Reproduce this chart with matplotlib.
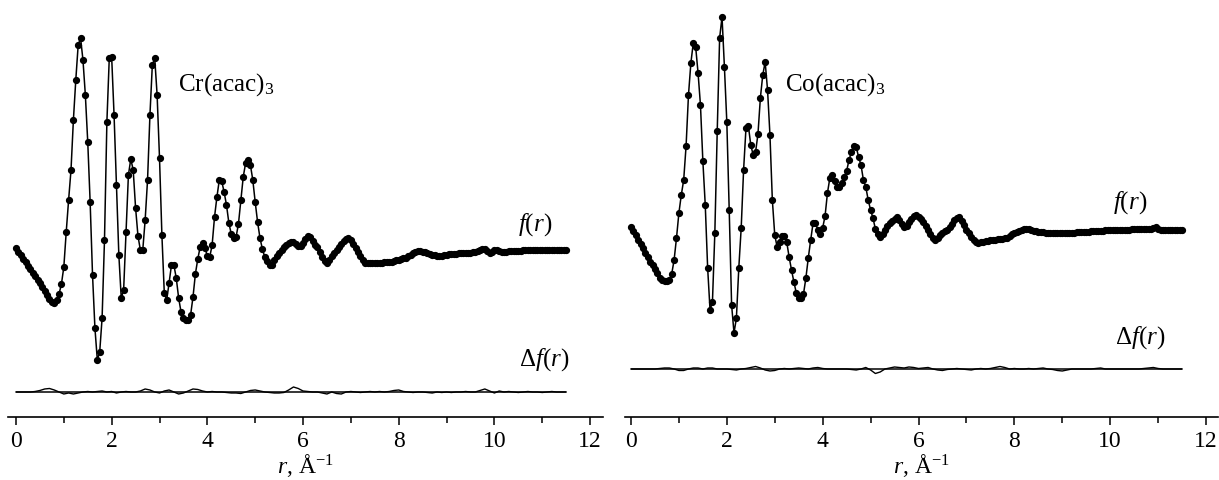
import numpy as np
import matplotlib
matplotlib.use('Agg')
import matplotlib.pyplot as plt
from matplotlib.ticker import MultipleLocator

plt.rcParams['font.family'] = 'Liberation Serif'
plt.rcParams['mathtext.fontset'] = 'custom'
plt.rcParams['mathtext.rm'] = 'Liberation Serif'
plt.rcParams['mathtext.it'] = 'Liberation Serif:italic'

STEP_F = 0.05
cr_f = [
    2, -2, -5, -9, -12, -16, -19, -23, -26, -30, -33, -37, -41, -45, -49, -52, -53, -50, -44, -34,
    -17, 18, 50, 80, 130, 170, 205, 212, 190, 155, 108, 48, -25, -78, -110, -102, -68, 10, 128, 192,
    193, 135, 65, -5, -48, -40, 18, 75, 91, 80, 42, 14, 0, 0, 30, 70, 135, 185, 192, 155,
    92, 15, -43, -50, -33, -15, -15, -28, -48, -62, -68, -70, -70, -65, -47, -24, -9, 3, 7, 2,
    -6, -7, 5, 33, 53, 70, 69, 58, 45, 27, 16, 12, 13, 26, 50, 73, 87, 90, 85, 70,
    48, 28, 12, 1, -7, -11, -15, -15, -10, -6, -3, 0, 3, 5, 7, 8, 8, 6, 4, 4,
    7, 11, 14, 13, 9, 5, 3, -2, -7, -11, -13, -10, -6, -3, 0, 3, 6, 9, 11, 12,
    10, 6, 2, -2, -6, -10, -13, -13, -13, -13, -13, -13, -13, -13, -12, -12, -12, -12, -11, -10,
    -10, -9, -8, -8, -6, -5, -3, -2, -1, -1, -2, -2, -3, -4, -5, -5, -6, -6, -6, -5,
    -5, -4, -4, -4, -4, -3, -3, -3, -3, -3, -3, -2, -2, -1, 0, 1, 1, -1, -3, -2,
    0, 0, -1, -2, -2, -2, -1, -1, -1, -1, -1, -1, 0, 0, 0, 0, 0, 0, 0, 0,
    0, 0, 0, 0, 0, 0, 0, 0, 0, 0, 0,
]
co_f = [
    3, -1, -5, -10, -14, -18, -23, -27, -32, -35, -39, -43, -48, -50, -51, -51, -50, -44, -30, -8,
    17, 35, 50, 84, 135, 167, 187, 183, 157, 125, 69, 25, -38, -80, -72, -3, 99, 192, 213, 163,
    108, 20, -75, -103, -88, -38, 2, 60, 102, 104, 85, 75, 78, 96, 132, 155, 168, 140, 95, 30,
    -5, -17, -12, -6, -6, -12, -27, -40, -52, -63, -68, -68, -64, -48, -28, -10, 7, 7, 0, -4,
    2, 14, 37, 52, 55, 49, 43, 43, 47, 53, 59, 70, 78, 84, 83, 73, 65, 50, 43, 30,
    20, 12, 1, -4, -7, -4, 0, 4, 7, 9, 11, 13, 10, 6, 3, 4, 8, 11, 14, 15,
    13, 11, 8, 4, 0, -4, -8, -10, -8, -5, -3, -1, 0, 3, 6, 10, 12, 13, 9, 5,
    0, -3, -7, -10, -12, -13, -12, -12, -11, -11, -10, -10, -10, -9, -9, -9, -8, -8, -6, -4,
    -3, -2, -1, 0, 1, 1, 1, 0, -1, -1, -2, -2, -2, -3, -3, -3, -3, -3, -3, -3,
    -3, -3, -3, -3, -3, -3, -2, -2, -2, -2, -2, -2, -1, -1, -1, -1, -1, -1, 0, 0,
    0, 0, 0, 0, 0, 0, 0, 0, 0, 1, 1, 1, 1, 1, 1, 1, 1, 1, 2, 3,
    1, 0, 0, 0, 0, 0, 0, 0, 0, 0, 0,
]

# difference curves, every 0.1 A^-1, same units
STEP_D = 0.1
cr_df = [
    0, 0, 0, 0, 0.5, 1.5, 3, 3.5, 2, 0,
    -2, -1, -2, -1, 0, 0.5, 0, 0.5, 1, 0,
    0.5, -1, 0, 0.5, 0, 0, 1, 3, 2, 0,
    -1, 1, 2, 0, -2, -1, 1, 3, 2.5, 1,
    0, 0.5, 0, 0, -0.5, -1, -1, -1.5, 0, 1.5,
    2, 1, 0, -0.5, -1, -1, -0.5, 2, 5, 3.5,
    1, 0.5, 0, 0, -1, -2, 0, -1.5, -2, 0,
    0.5, 0, -0.5, 0, 0.5, 0, 0.5, 0, 0.5, 1.5,
    2, 0.5, 0, -0.5, 0, 0, -0.5, -1, 0, -0.5,
    0, -0.5, 0, 0, 0.5, 0, 0, 1.5, 3, 1,
    -1, 1, 0, 0.5, 0, -0.5, 0, 0.5, 0, 0,
    -0.5, 0, 0.5, 0, 0, 0,
]
co_df = [
    0, 0, 0, 0, 0, 0, 0.5, 1, 1, 0,
    -1.5, -1.5, 0, 1, 1, 0, 1, 1, 0, 0,
    0, -0.5, -1, 0, 0.5, 1.5, 2.5, 1, -1, -2,
    -1.5, 0, 0.5, 0, 0.5, 1, 0.5, 0, 1, 1.5,
    0.5, 0, 0, 0, 0, 0, -0.5, -1, 0, 1.5,
    -1, -4.5, -3, 0, 1, 2, 1.5, 1, 2, 1.5,
    0.5, 1, 1.5, 0, -1, -1.5, -0.5, 0, 0.5, 0,
    -0.5, -1, 0, 0.5, 0, 0.5, 1.5, 2.5, 1.5, 0,
    0.5, 0, 0, 0.5, 0, 0.5, 1, 0, -0.5, -1.5,
    -2, -1, 0, 0, 0, 0, 0, 0.5, 1, 0,
    0, 0, 0, 0, 0, 0, 0, 0.5, 1, 1.5,
    0.5, 0, 0, 0, 0, 0,
]

panels = [
    dict(name='Cr(acac)$_3$', f=cr_f, df=cr_df, df_offset=-142, ylim=(-166.7, 245),
         xlim=(-0.167, 12.27), rect=[0.00656, 0.1319, 0.4881, 0.8577],
         name_xy=(3.38, 165), f_xy=(10.86, 25), df_xy=(11.04, -110)),
    dict(name='Co(acac)$_3$', f=co_f, df=co_df, df_offset=-139, ylim=(-186.7, 225),
         xlim=(-0.125, 12.25), rect=[0.5127, 0.1319, 0.4865, 0.8577],
         name_xy=(3.21, 145), f_xy=(10.42, 27), df_xy=(10.63, -108)),
]

fig = plt.figure(figsize=(12.19, 4.8), dpi=100)

for p in panels:
    ax = fig.add_axes(p['rect'])
    f = np.array(p['f'], dtype=float)
    r = STEP_F * np.arange(len(f))
    df = np.array(p['df'], dtype=float)
    rd = STEP_D * np.arange(len(df))

    ax.plot(r, f, '-', color='black', lw=1.1, marker='o', ms=4.2,
            mfc='black', mec='black')
    ax.hlines(p['df_offset'], rd[0], rd[-1], color='black', lw=1.1)
    ax.plot(rd, df + p['df_offset'], color='black', lw=1.0)

    ax.text(*p['name_xy'], p['name'], fontsize=18, ha='left', va='center')
    ax.text(*p['f_xy'], '$f$($r$)', fontsize=18, ha='center', va='center')
    ax.text(*p['df_xy'], 'Δ$f$($r$)', fontsize=18, ha='center', va='center')

    ax.set_xlim(*p['xlim'])
    ax.set_ylim(*p['ylim'])
    ax.set_yticks([])
    ax.xaxis.set_major_locator(MultipleLocator(2))
    ax.xaxis.set_minor_locator(MultipleLocator(1))
    ax.tick_params(axis='x', which='major', direction='out', length=6, width=1.1,
                   labelsize=17, pad=4)
    ax.tick_params(axis='x', which='minor', direction='out', length=4.5, width=1.1)
    for side in ['left', 'right', 'top']:
        ax.spines[side].set_visible(False)
    ax.spines['bottom'].set_linewidth(1.2)
    ax.set_xlabel('$r$, Å$^{-1}$', fontsize=17, labelpad=0)
    ax.patch.set_alpha(0)

fig.savefig('out.png', dpi=100)
print("Saved: out.png")
